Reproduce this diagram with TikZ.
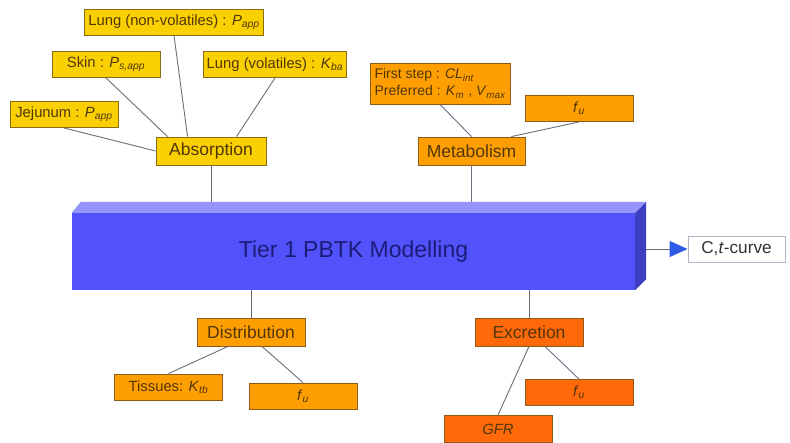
\documentclass[tikz,border=0pt]{standalone}
\usepackage{fontspec}
\setmainfont{Liberation Sans}
\usepackage{tikz}
\usetikzlibrary{arrows.meta,positioning}
\definecolor{absfill}{RGB}{250,208,0}
\definecolor{absline}{RGB}{135,108,20}
\definecolor{midfill}{RGB}{255,158,0}
\definecolor{midline}{RGB}{140,90,25}
\definecolor{excfill}{RGB}{255,105,10}
\definecolor{blockfront}{RGB}{82,82,250}
\definecolor{blocktop}{RGB}{150,150,250}
\definecolor{blockside}{RGB}{62,62,195}
\definecolor{tiertext}{RGB}{28,28,120}
\definecolor{boxtext}{RGB}{80,55,10}
\definecolor{linkgray}{RGB}{105,110,125}
\definecolor{arrowblue}{RGB}{45,90,230}
\definecolor{curveline}{RGB}{175,182,200}
\definecolor{curvetext}{RGB}{50,50,60}
\newcommand{\sub}[1]{\textsubscript{\itshape #1}}

\begin{document}
\begin{tikzpicture}[x=1pt, y=-1pt,
  leaf/.style={draw=absline, fill=absfill, line width=0.9pt, text=boxtext, inner xsep=3.5pt, inner ysep=1pt,
    minimum width=108pt, minimum height=26pt, font=\fontsize{14.8}{16}\selectfont},
  mid/.style={leaf, minimum height=28pt, font=\fontsize{17.5}{19}\selectfont},
  link/.style={draw=linkgray, line width=0.9pt}]
\path[use as bounding box] (0,0) rectangle (790,443);
% the modelling block
\node[fill=blockfront, minimum width=563pt, minimum height=77pt, text=tiertext,
  font=\fontsize{23}{25}\selectfont] (pbtk) at (353.5,251.5) {Tier 1 PBTK Modelling};
\fill[blocktop] (pbtk.north west) -- ++(9,-11) -- ([shift={(11,-11)}]pbtk.north east) -- (pbtk.north east) -- cycle;
\fill[blockside] (pbtk.north east) -- ++(11,-11) -- ([shift={(11,-11)}]pbtk.south east) -- (pbtk.south east) -- cycle;
\coordinate (rim) at ([yshift=11pt]pbtk.north);
\coordinate (side) at ([xshift=11pt]pbtk.east);
% absorption
\node[mid, minimum width=110pt] (abs) at (211,151) {Absorption};
\node[leaf] (jej) at (64,114.5) {Jejunum : \textit{P}\sub{app}};
\node[leaf] (skin) at (106,64.5) {Skin : \textit{P}\sub{s,app}};
\node[leaf] (lungnv) at (174,22) {Lung (non-volatiles) : \textit{P}\sub{app}};
\node[leaf] (lungv) at (275,64.5) {Lung (volatiles) : \textit{K}\sub{ba}};
% metabolism
\node[mid, fill=midfill, draw=midline, minimum width=107pt] (met) at (471.5,151) {Metabolism};
\node[leaf, fill=midfill, draw=midline, minimum width=140pt, minimum height=41pt, align=left, inner xsep=3pt,
  font=\fontsize{14}{17}\selectfont] (firststep) at (440,83.5)
  {First step : \textit{CL}\sub{int}\\Preferred : \textit{K}\sub{m} , \textit{V}\sub{max}};
\node[leaf, fill=midfill, draw=midline] (fum) at (579,108.5) {\textit{f}\sub{u}};
% distribution
\node[mid, fill=midfill, draw=midline] (dist) at (251,332) {Distribution};
\node[leaf, fill=midfill, draw=midline] (tis) at (168.5,387) {Tissues: \textit{K}\sub{tb}};
\node[leaf, fill=midfill, draw=midline] (fud) at (303,396) {\textit{f}\sub{u}};
% excretion
\node[mid, fill=excfill, draw=midline] (exc) at (529,332) {Excretion};
\node[leaf, fill=excfill, draw=midline] (fue) at (579,392.5) {\textit{f}\sub{u}};
\node[leaf, fill=excfill, draw=midline, minimum height=27pt] (gfr) at (498,429) {\textit{GFR}};
% output
\node[draw=curveline, fill=white, line width=0.9pt, text=curvetext, inner ysep=1pt,
  minimum width=97pt, minimum height=26pt, font=\fontsize{17.2}{19}\selectfont] (curve) at (736.5,249) {C,\textit{t}-curve};
\path[link] (jej.south) edge (abs.west);
\path[link] (skin.south) edge ([xshift=12pt]abs.north west);
\path[link] (lungnv.south) edge ([xshift=32pt]abs.north west);
\path[link] (lungv.south) edge ([xshift=81pt]abs.north west);
\path[link] (firststep.south) edge (met.north);
\path[link] (fum.south) edge ([xshift=-14pt]met.north east);
\path[link] ([xshift=-23pt]dist.south) edge (tis.north);
\path[link] ([xshift=11pt]dist.south) edge (fud.north);
\path[link] (exc.south) edge (gfr.north);
\path[link] ([xshift=16pt]exc.south) edge (fue.north);
\draw[link] (abs) -- (abs |- rim);
\draw[link] (met) -- (met |- rim);
\draw[link] (dist) -- (dist |- pbtk.south);
\draw[link] (exc) -- (exc |- pbtk.south);
\draw[link, -{Triangle[length=18pt,width=16pt,color=arrowblue]}] (side |- curve) -- (curve.west);
\end{tikzpicture}
\end{document}
